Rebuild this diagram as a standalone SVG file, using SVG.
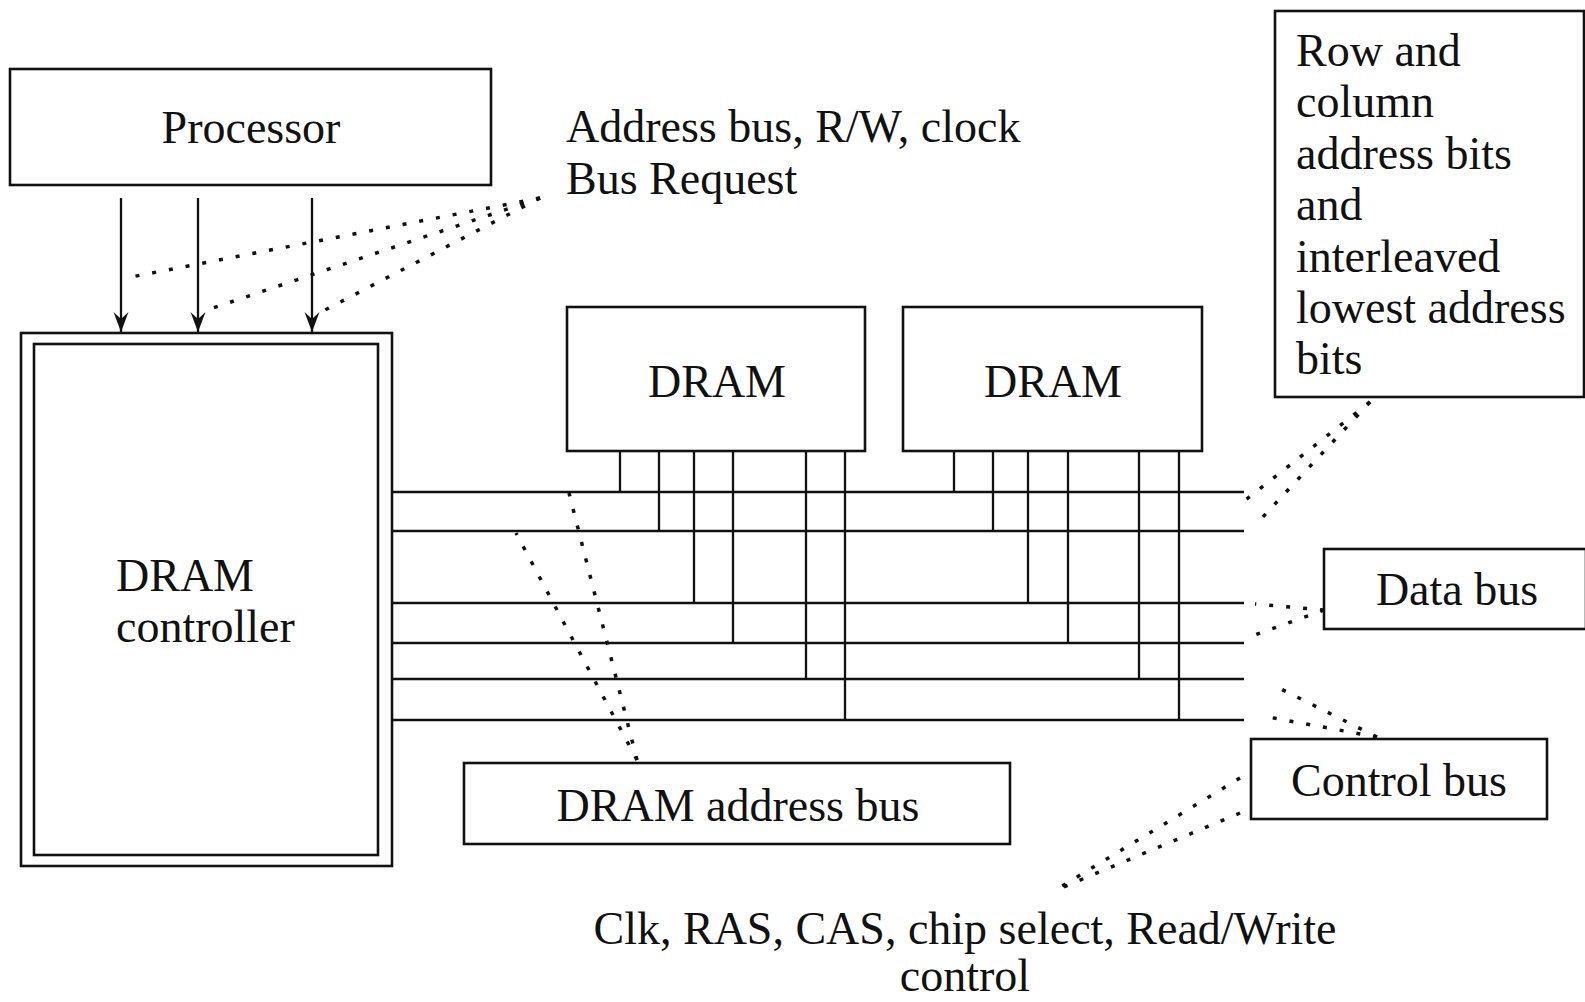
<svg xmlns="http://www.w3.org/2000/svg" width="1585" height="1002" viewBox="0 0 1585 1002">
<style>
.box{fill:#fff;stroke:#111;stroke-width:2.6}
.t{font-family:"Liberation Serif","Times New Roman",serif;font-size:46px;fill:#111}
.m{text-anchor:middle}
.bus{stroke:#111;stroke-width:2.6;fill:none}
.stub{stroke:#111;stroke-width:2.3;fill:none}
.dot{stroke:#111;stroke-width:3.5;stroke-dasharray:4 13;fill:none}
.arr{stroke:#111;stroke-width:2.3;fill:none;marker-end:url(#ah)}
</style>
<defs>
<marker id="ah" markerUnits="userSpaceOnUse" markerWidth="24" markerHeight="18" viewBox="-22 -9 24 18" refX="0" refY="0" orient="auto">
<path d="M0,0 L-20,-7.5 L-13,0 L-20,7.5 Z" fill="#111"/>
</marker>
</defs>
<rect width="1585" height="1002" fill="#fff"/>
<g id="processor">
<rect class="box" x="10" y="69" width="481" height="116"/>
<text class="t m" x="251" y="143">Processor</text>
</g>
<g id="addr-label">
<text class="t" x="566" y="142">Address bus, R/W, clock</text>
<text class="t" x="566" y="194">Bus Request</text>
</g>
<g id="rowcol">
<rect class="box" x="1275" y="11" width="309" height="386"/>
<text class="t" x="1296" y="66">Row and</text>
<text class="t" x="1296" y="117">column</text>
<text class="t" x="1296" y="169">address bits</text>
<text class="t" x="1296" y="220">and</text>
<text class="t" x="1296" y="272">interleaved</text>
<text class="t" x="1296" y="323">lowest address</text>
<text class="t" x="1296" y="374">bits</text>
</g>
<g id="controller">
<rect class="box" x="21" y="333" width="371" height="533"/>
<rect class="box" x="34" y="344" width="344" height="511"/>
<text class="t" x="116" y="591">DRAM</text>
<text class="t" x="116" y="642">controller</text>
</g>
<g id="dram1">
<rect class="box" x="567" y="307" width="298" height="144"/>
<text class="t m" x="717" y="397">DRAM</text>
</g>
<g id="dram2">
<rect class="box" x="903" y="307" width="299" height="144"/>
<text class="t m" x="1053" y="397">DRAM</text>
</g>
<g id="databus">
<rect class="box" x="1324" y="549" width="262" height="80"/>
<text class="t m" x="1457" y="605">Data bus</text>
</g>
<g id="controlbus">
<rect class="box" x="1251" y="739" width="296" height="80"/>
<text class="t m" x="1399" y="796">Control bus</text>
</g>
<g id="addrbus">
<rect class="box" x="464" y="763" width="546" height="81"/>
<text class="t m" x="738" y="821">DRAM address bus</text>
</g>
<g id="ctrl-label">
<text class="t m" x="965" y="944">Clk, RAS, CAS, chip select, Read/Write</text>
<text class="t m" x="965" y="991">control</text>
</g>
<g id="connectors">
<line class="arr" x1="121" y1="198" x2="121" y2="332"/>
<line class="arr" x1="198" y1="198" x2="198" y2="332"/>
<line class="arr" x1="312" y1="198" x2="312" y2="332"/>
<g class="bus">
<line x1="392" y1="492" x2="1244" y2="492"/>
<line x1="392" y1="531" x2="1244" y2="531"/>
<line x1="392" y1="603" x2="1244" y2="603"/>
<line x1="392" y1="643" x2="1244" y2="643"/>
<line x1="392" y1="679" x2="1244" y2="679"/>
<line x1="392" y1="720" x2="1244" y2="720"/>
</g>
<g class="stub">
<line x1="620" y1="451" x2="620" y2="492"/>
<line x1="659" y1="451" x2="659" y2="531"/>
<line x1="694" y1="451" x2="694" y2="603"/>
<line x1="733" y1="451" x2="733" y2="643"/>
<line x1="806" y1="451" x2="806" y2="679"/>
<line x1="845" y1="451" x2="845" y2="720"/>
<line x1="954" y1="451" x2="954" y2="492"/>
<line x1="993" y1="451" x2="993" y2="531"/>
<line x1="1028" y1="451" x2="1028" y2="603"/>
<line x1="1068" y1="451" x2="1068" y2="643"/>
<line x1="1139" y1="451" x2="1139" y2="679"/>
<line x1="1179" y1="451" x2="1179" y2="720"/>
</g>
<g class="dot">
<line x1="540" y1="198" x2="131" y2="277"/>
<line x1="540" y1="198" x2="210" y2="309"/>
<line x1="540" y1="198" x2="325" y2="310"/>
<line x1="1370" y1="402" x2="1239" y2="505"/>
<line x1="1370" y1="402" x2="1260" y2="520"/>
<line x1="1324" y1="610" x2="1255" y2="604"/>
<line x1="1324" y1="610" x2="1252" y2="636"/>
<line x1="1377" y1="737" x2="1271" y2="684"/>
<line x1="1377" y1="737" x2="1268" y2="717"/>
<line x1="1240" y1="778" x2="1054" y2="891"/>
<line x1="1240" y1="813" x2="1054" y2="891"/>
<line x1="637" y1="760" x2="569" y2="493"/>
<line x1="637" y1="760" x2="516" y2="533"/>
</g>
</g>
</svg>
